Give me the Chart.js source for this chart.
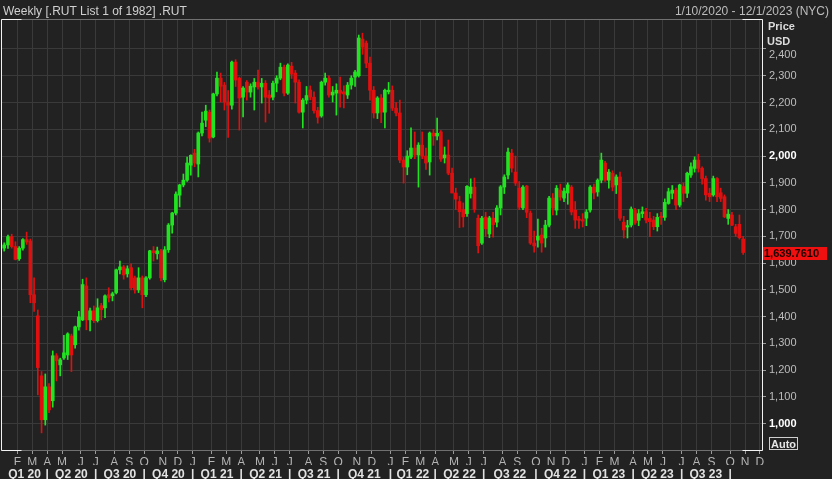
<!DOCTYPE html>
<html>
<head>
<meta charset="utf-8">
<script src="https://cdn.jsdelivr.net/npm/chart.js@4.4.1/dist/chart.umd.min.js"></script>
<style>
  html, body { margin: 0; padding: 0; background: #222222; }
  canvas { display: block; }
</style>
</head>
<body>
<canvas id="rut_chart" width="832" height="479"></canvas>
<script>
// weekly bars, the first one is the week ending Fri 1/10/2020
var firstWeek = Date.UTC(2020, 0, 10)
var lastWeekOnAxis = 203   // 12/1/2023, right end of the time axis

var opens = [
    1656, 1668, 1699, 1662, 1616, 1656, 1688, 1683, 1482, 1403,
    1179, 1015, 1138, 1086, 1254, 1220, 1246, 1257, 1328, 1295,
    1362, 1388, 1515, 1388, 1422, 1385, 1441, 1433, 1482, 1478,
    1490, 1575, 1586, 1560, 1583, 1545, 1500, 1545, 1482, 1545,
    1646, 1635, 1646, 1538, 1650, 1742, 1787, 1854, 1892, 1910,
    1966, 2011, 1970, 2086, 2134, 2164, 2071, 2232, 2291, 2265,
    2202, 2190, 2351, 2291, 2220, 2276, 2239, 2258, 2276, 2258,
    2272, 2228, 2220, 2272, 2291, 2332, 2235, 2336, 2310, 2276,
    2164, 2209, 2247, 2220, 2170, 2150, 2276, 2291, 2228, 2235,
    2246, 2240, 2228, 2265, 2295, 2300, 2437, 2422, 2347, 2246,
    2161, 2217, 2164, 2240, 2246, 2179, 2161, 1985, 1959, 1996,
    2030, 2004, 2041, 2000, 1978, 2086, 2075, 2090, 1993, 2004,
    1936, 1862, 1830, 1800, 1785, 1860, 1884, 1768, 1675, 1772,
    1709, 1768, 1753, 1806, 1884, 1929, 2011, 1940, 1880, 1806,
    1888, 1787, 1675, 1686, 1705, 1694, 1742, 1843, 1798, 1873,
    1843, 1862, 1884, 1798, 1765, 1762, 1768, 1798, 1884, 1866,
    1910, 1974, 1910, 1936, 1892, 1922, 1753, 1735, 1742, 1798,
    1760, 1785, 1792, 1767, 1761, 1736, 1775, 1771, 1823, 1861,
    1873, 1817, 1886, 1861, 1929, 1954, 1985, 1954, 1916, 1861,
    1855, 1916, 1863, 1848, 1767, 1780, 1736, 1745, 1690
]
var highs = [
    1676, 1705, 1708, 1680, 1662, 1692, 1716, 1690, 1545, 1425,
    1195, 1186, 1150, 1272, 1262, 1245, 1330, 1340, 1335, 1365,
    1420, 1540, 1545, 1432, 1440, 1467, 1450, 1482, 1508, 1492,
    1578, 1608, 1592, 1590, 1597, 1552, 1583, 1552, 1550, 1648,
    1662, 1660, 1652, 1662, 1748, 1790, 1866, 1895, 1933, 1996,
    2005, 2025, 2090, 2164, 2190, 2172, 2235, 2314, 2310, 2275,
    2245, 2355, 2360, 2295, 2260, 2282, 2270, 2290, 2321, 2290,
    2282, 2245, 2280, 2300, 2347, 2340, 2345, 2350, 2320, 2285,
    2215, 2260, 2262, 2240, 2182, 2280, 2310, 2300, 2260, 2270,
    2295, 2262, 2275, 2300, 2320, 2452, 2459, 2430, 2370, 2260,
    2222, 2230, 2250, 2275, 2262, 2200, 2209, 1995, 2020, 2105,
    2090, 2050, 2090, 2030, 2090, 2100, 2142, 2095, 2034, 2060,
    1955, 1880, 1850, 1825, 1890, 1915, 1918, 1780, 1775, 1790,
    1775, 1790, 1815, 1890, 1930, 2030, 2025, 2000, 1905, 1890,
    1890, 1795, 1720, 1765, 1730, 1760, 1850, 1860, 1890, 1895,
    1880, 1900, 1890, 1830, 1775, 1785, 1800, 1890, 1895, 1915,
    2011, 1980, 1950, 1945, 1930, 1940, 1775, 1760, 1810, 1805,
    1800, 1810, 1805, 1790, 1775, 1785, 1790, 1840, 1880, 1890,
    1880, 1895, 1900, 1940, 1975, 1997, 2007, 1960, 1925, 1880,
    1925, 1920, 1880, 1855, 1800, 1790, 1745, 1780, 1700
]
var lows = [
    1645, 1655, 1656, 1612, 1610, 1648, 1670, 1452, 1420, 1108,
    966, 995, 1041, 1062, 1160, 1179, 1240, 1240, 1195, 1282,
    1350, 1385, 1351, 1347, 1378, 1380, 1388, 1396, 1455, 1459,
    1485, 1560, 1540, 1548, 1500, 1488, 1490, 1433, 1475, 1540,
    1608, 1615, 1534, 1530, 1640, 1712, 1780, 1810, 1885, 1905,
    1929, 1960, 1922, 2075, 2110, 2052, 2068, 2225, 2202, 2172,
    2070, 2175, 2260, 2097, 2146, 2209, 2220, 2172, 2250, 2198,
    2127, 2160, 2210, 2240, 2285, 2225, 2230, 2290, 2198, 2160,
    2105, 2195, 2210, 2160, 2123, 2145, 2265, 2220, 2202, 2153,
    2183, 2180, 2215, 2250, 2260, 2295, 2380, 2330, 2209, 2142,
    2140, 2125, 2105, 2232, 2170, 2150, 1975, 1899, 1930, 1990,
    1990, 1884, 1990, 1950, 1929, 2040, 2060, 1980, 1974, 1930,
    1862, 1800, 1733, 1735, 1775, 1843, 1790, 1638, 1670, 1700,
    1695, 1697, 1735, 1780, 1860, 1915, 1940, 1890, 1800, 1800,
    1770, 1670, 1641, 1660, 1641, 1660, 1735, 1780, 1780, 1835,
    1830, 1820, 1780, 1730, 1730, 1735, 1740, 1790, 1840, 1850,
    1900, 1905, 1880, 1870, 1860, 1760, 1694, 1694, 1735, 1745,
    1740, 1770, 1750, 1699, 1725, 1720, 1745, 1760, 1820, 1840,
    1800, 1810, 1830, 1845, 1920, 1940, 1940, 1895, 1835, 1830,
    1850, 1830, 1830, 1770, 1745, 1740, 1700, 1690, 1633
]
var closes = [
    1668, 1699, 1662, 1614, 1656, 1688, 1679, 1482, 1452, 1210,
    1015, 1138, 1052, 1254, 1235, 1239, 1265, 1336, 1257, 1362,
    1399, 1520, 1388, 1422, 1385, 1433, 1426, 1478, 1470, 1486,
    1575, 1586, 1556, 1579, 1508, 1500, 1545, 1482, 1545, 1646,
    1639, 1646, 1545, 1650, 1742, 1787, 1858, 1892, 1910, 1974,
    2003, 1974, 2086, 2123, 2168, 2067, 2232, 2291, 2261, 2202,
    2190, 2351, 2284, 2217, 2254, 2239, 2261, 2276, 2258, 2272,
    2220, 2217, 2272, 2291, 2332, 2235, 2340, 2306, 2276, 2164,
    2209, 2226, 2220, 2170, 2145, 2276, 2291, 2228, 2239, 2246,
    2235, 2232, 2265, 2291, 2314, 2441, 2407, 2347, 2246, 2161,
    2217, 2164, 2246, 2246, 2179, 2161, 1985, 1959, 2000, 2030,
    2004, 2041, 2000, 1974, 2086, 2075, 2085, 1989, 2004, 1936,
    1862, 1839, 1792, 1773, 1887, 1884, 1801, 1665, 1768, 1728,
    1769, 1744, 1806, 1885, 1922, 2015, 1955, 1899, 1809, 1884,
    1790, 1675, 1664, 1701, 1675, 1742, 1843, 1806, 1880, 1847,
    1869, 1892, 1791, 1761, 1760, 1757, 1791, 1884, 1862, 1910,
    1985, 1910, 1940, 1884, 1922, 1768, 1724, 1740, 1802, 1750,
    1785, 1792, 1761, 1755, 1736, 1771, 1770, 1827, 1867, 1873,
    1817, 1892, 1861, 1936, 1960, 1985, 1954, 1916, 1855, 1848,
    1916, 1848, 1842, 1773, 1783, 1742, 1711, 1695, 1639.761
]

var monthLetters = ['J', 'F', 'M', 'A', 'M', 'J', 'J', 'A', 'S', 'O', 'N', 'D']
var quarterLabels = ['Q1 20', 'Q2 20', 'Q3 20', 'Q4 20', 'Q1 21', 'Q2 21', 'Q3 21', 'Q4 21',
                     'Q1 22', 'Q2 22', 'Q3 22', 'Q4 22', 'Q1 23', 'Q2 23', 'Q3 23']
var priceTicks = [1000, 1100, 1200, 1300, 1400, 1500, 1600, 1700, 1800, 1900, 2000, 2100, 2200, 2300, 2400]
var lastPrice = closes[closes.length - 1]

var upColor = '#21e421'
var downColor = '#e01010'
var gridColor = '#3a3a3a'
var fontName = '"Liberation Sans", Arial, sans-serif'

var xMin = -0.6
var xMax = 203.05

// month ticks sit on the left edge of the first weekly bar of each month
var monthTicks = []
var quarterEdges = []
for (var i = 1; i <= lastWeekOnAxis; i++) {
    var m = new Date(firstWeek + i * 7 * 86400000).getUTCMonth()
    var prev = new Date(firstWeek + (i - 1) * 7 * 86400000).getUTCMonth()
    if (m !== prev) {
        monthTicks.push({ value: i - 0.5, lbl: monthLetters[m] })
        if (m % 3 === 0) quarterEdges.push(i - 0.5)
    }
}

var quarterTicks = []
quarterLabels.forEach(function (q, k) {
    var from = k === 0 ? xMin : quarterEdges[k - 1]
    quarterTicks.push({ value: (from + quarterEdges[k]) / 2, lbl: q })
    quarterTicks.push({ value: quarterEdges[k], lbl: '|' })
})

var candleColors = closes.map((c, i) => c >= opens[i] ? upColor : downColor)

var frame = {
    id: 'frame',
    beforeDraw(chart) {
        var ctx = chart.ctx
        ctx.save()
        ctx.fillStyle = '#222222'
        ctx.fillRect(0, 0, chart.width, chart.height)
        ctx.restore()
    },
    afterDraw(chart) {
        var ctx = chart.ctx
        var a = chart.chartArea
        var L = a.left - 0.5, R = a.right + 0.5, T = a.top + 0.5, B = a.bottom + 0.5
        ctx.save()
        ctx.lineWidth = 1
        ctx.strokeStyle = '#707070'
        ctx.beginPath()
        ctx.moveTo(L, T); ctx.lineTo(R, T)
        ctx.moveTo(L, B); ctx.lineTo(R, B)
        ctx.stroke()
        ctx.strokeStyle = '#f2f2f2'
        ctx.beginPath()
        ctx.moveTo(L + 20, T); ctx.lineTo(L, T); ctx.lineTo(L, B); ctx.lineTo(L + 20, B)
        ctx.moveTo(R - 20, T); ctx.lineTo(R, T); ctx.lineTo(R, B); ctx.lineTo(R - 20, B)
        ctx.stroke()

        // header
        ctx.textBaseline = 'alphabetic'
        ctx.font = '12px ' + fontName
        ctx.fillStyle = '#d0d0d0'
        ctx.textAlign = 'left'
        ctx.fillText('Weekly [.RUT List 1 of 1982] .RUT', 3, 15)
        ctx.textAlign = 'right'
        ctx.fillStyle = '#bdbdbd'
        ctx.fillText('1/10/2020 - 12/1/2023 (NYC)', 829, 15)

        ctx.textAlign = 'left'
        ctx.font = 'bold 11px ' + fontName
        ctx.fillStyle = '#dcdcdc'
        ctx.fillText('Price', 768, 30)
        ctx.fillText('USD', 767, 45)

        // the top price label sits a little lower, under the unit
        var yTop = chart.scales.y.getPixelForValue(2400)
        ctx.font = '11px ' + fontName
        ctx.fillStyle = '#bdbdbd'
        ctx.textBaseline = 'middle'
        ctx.fillText((2400).toLocaleString('en-US'), 769, yTop + 6)

        // last price tag
        var py = Math.round(chart.scales.y.getPixelForValue(lastPrice))
        ctx.fillStyle = '#f01010'
        ctx.fillRect(763, py - 6, 64, 13)
        ctx.fillStyle = '#1a0000'
        ctx.font = 'bold 11px ' + fontName
        ctx.fillText(lastPrice.toLocaleString('en-US', { minimumFractionDigits: 4 }), 764, py + 1)

        // auto scale box
        ctx.strokeStyle = '#cfcfcf'
        ctx.strokeRect(769.5, 437.5, 28, 12)
        ctx.fillStyle = '#e6e6e6'
        ctx.textBaseline = 'alphabetic'
        ctx.fillText('Auto', 771, 448)
        ctx.restore()
    }
}

var rut_plot = document.getElementById('rut_chart').getContext('2d');
var candleChart = new Chart(rut_plot, {
    type: 'bar',
    data: {
        datasets: [{
            label: 'wick',
            data: lows.map((l, i) => ({ x: i, y: [l, highs[i]] })),
            backgroundColor: candleColors,
            borderWidth: 0,
            barThickness: 1,
            grouped: false
        }, {
            label: 'body',
            data: opens.map((o, i) => ({ x: i, y: [o, closes[i]] })),
            backgroundColor: candleColors,
            borderWidth: 0,
            barThickness: 3,
            minBarLength: 1,
            grouped: false
        }]
    },
    options: {
        responsive: false,
        animation: false,
        events: [],
        layout: {
            padding: { left: 2, top: 19, right: 0, bottom: 0 }
        },
        scales: {
            x: {
                type: 'linear',
                position: 'bottom',
                min: xMin,
                max: xMax,
                offset: false,
                weight: 0,
                afterBuildTicks: s => { s.ticks = monthTicks.map(t => ({ value: t.value, lbl: t.lbl })) },
                afterFit: s => { s.height = 15 },
                grid: {
                    color: gridColor,
                    tickColor: '#9a9a9a',
                    tickLength: 4,
                    offset: false
                },
                border: { display: false },
                ticks: {
                    autoSkip: false,
                    maxRotation: 0,
                    minRotation: 0,
                    padding: 1,
                    color: '#b4b4b4',
                    font: { family: fontName, size: 12 },
                    callback: (v, i, t) => t[i].lbl
                }
            },
            q: {
                type: 'linear',
                position: 'bottom',
                min: xMin,
                max: xMax,
                offset: false,
                weight: 1,
                afterBuildTicks: s => { s.ticks = quarterTicks.map(t => ({ value: t.value, lbl: t.lbl })) },
                afterFit: s => { s.height = 14 },
                grid: { display: false, drawTicks: false },
                border: { display: false },
                ticks: {
                    autoSkip: false,
                    maxRotation: 0,
                    minRotation: 0,
                    padding: 2,
                    color: '#e2e2e2',
                    font: { family: fontName, size: 12, weight: 'bold' },
                    callback: (v, i, t) => t[i].lbl
                }
            },
            y: {
                type: 'linear',
                position: 'right',
                min: 902,
                max: 2512,
                afterBuildTicks: s => { s.ticks = priceTicks.map(v => ({ value: v })) },
                afterFit: s => { s.width = 70 },
                grid: {
                    color: gridColor,
                    tickColor: '#9a9a9a',
                    tickLength: 4
                },
                border: { display: false },
                ticks: {
                    padding: 3,
                    color: ctx => ctx.tick && ctx.tick.value % 1000 === 0 ? '#ffffff' : '#bdbdbd',
                    font: ctx => ({
                        family: fontName,
                        size: 11,
                        weight: ctx.tick && ctx.tick.value % 1000 === 0 ? 'bold' : 'normal'
                    }),
                    // 2,400 is written by the frame plugin, a few pixels lower
                    callback: v => v === 2400 ? '' : v.toLocaleString('en-US')
                }
            }
        },
        plugins: {
            legend: { display: false },
            tooltip: { enabled: false },
            title: { display: false }
        }
    },
    plugins: [frame]
});
</script>
</body>
</html>
